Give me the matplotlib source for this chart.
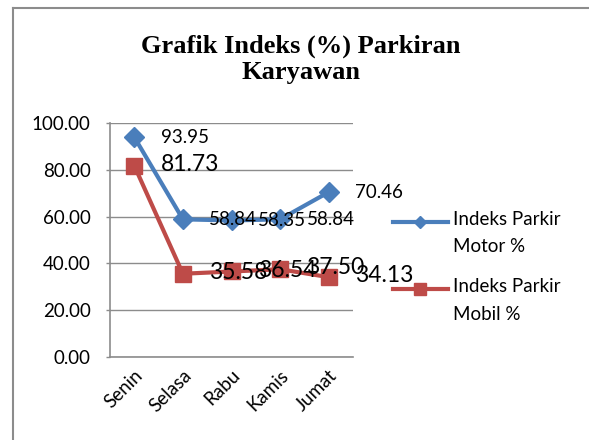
import matplotlib
matplotlib.use("Agg")
import matplotlib.pyplot as plt
from matplotlib.lines import Line2D

categories = ["Senin", "Selasa", "Rabu", "Kamis", "Jumat"]
motor = [93.95, 58.84, 58.35, 58.84, 70.46]
mobil = [81.73, 35.58, 36.54, 37.50, 34.13]
yticks = [0, 20, 40, 60, 80, 100]
title = "Grafik Indeks (%) Parkiran\nKaryawan"
legend_labels = ["Indeks Parkir\nMotor %", "Indeks Parkir\nMobil %"]

blue = "#4A7EBB"
red = "#BE4B48"
grey = "#8C8C8C"
font = "Lato"

fig = plt.figure(figsize=(5.89, 4.4), dpi=100)
ax = fig.add_axes([110/589, 1-357/440, 243/589, 234/440])

x = list(range(len(categories)))
ax.plot(x, motor, color=blue, lw=3, marker="D", ms=10, zorder=3)
ax.plot(x, mobil, color=red, lw=3, marker="s", ms=12, zorder=3)

for xi, v in zip(x, motor):
    ax.annotate(f"{v:.2f}", (xi, v), xytext=(19, 0), textcoords="offset points",
                va="center", ha="left", fontsize=13.5, family=font, zorder=4)
for xi, v in zip(x, mobil):
    ax.annotate(f"{v:.2f}", (xi, v), xytext=(19, 1), textcoords="offset points",
                va="center", ha="left", fontsize=16.5, family=font, zorder=4)

ax.set_xlim(-0.5, len(categories) - 0.5)
ax.set_ylim(0, 100)
ax.set_yticks(yticks)
ax.set_yticklabels([f"{t:.2f}" for t in yticks], family=font, fontsize=13.5)
ax.set_xticks(x)
ax.set_xticklabels(categories, rotation=45, ha="right", rotation_mode="anchor",
                   family=font, fontsize=13.5)
ax.tick_params(axis="x", length=0, pad=7)
ax.tick_params(axis="y", length=3, color=grey, width=1, pad=11)
ax.yaxis.grid(True, color=grey, lw=1)
ax.set_axisbelow(True)
for s in ["top", "right"]:
    ax.spines[s].set_visible(False)
for s in ["left", "bottom"]:
    ax.spines[s].set_color(grey)
    ax.spines[s].set_linewidth(1.2)

fig.text(301/589, 1-59/440, title, ha="center", va="center", fontsize=19,
         fontweight="bold", family="Liberation Serif", linespacing=1.15)

# legend (handle aligned with first label line, as in the reference)
leg_items = [(blue, "D", 6, 222), (red, "s", 9, 289)]
for (col, mk, msz, ypx), lab in zip(leg_items, legend_labels):
    yf = 1 - ypx/440
    fig.add_artist(Line2D([393/589, 448/589], [yf, yf], color=col, lw=3,
                          transform=fig.transFigure))
    fig.add_artist(Line2D([420/589], [yf], color=col, marker=mk, ms=msz, lw=0,
                          transform=fig.transFigure))
    fig.text(453/589, yf + 11/440, lab, ha="left", va="top", family=font,
             fontsize=13.5, linespacing=1.75)

fig.add_artist(Line2D([13/589, 13/589], [0, 1-8/440], color=grey, lw=1.5,
                      transform=fig.transFigure))
fig.add_artist(Line2D([13/589, 1], [1-8/440, 1-8/440], color=grey, lw=1.5,
                      transform=fig.transFigure))

fig.savefig("out.png", dpi=100)
